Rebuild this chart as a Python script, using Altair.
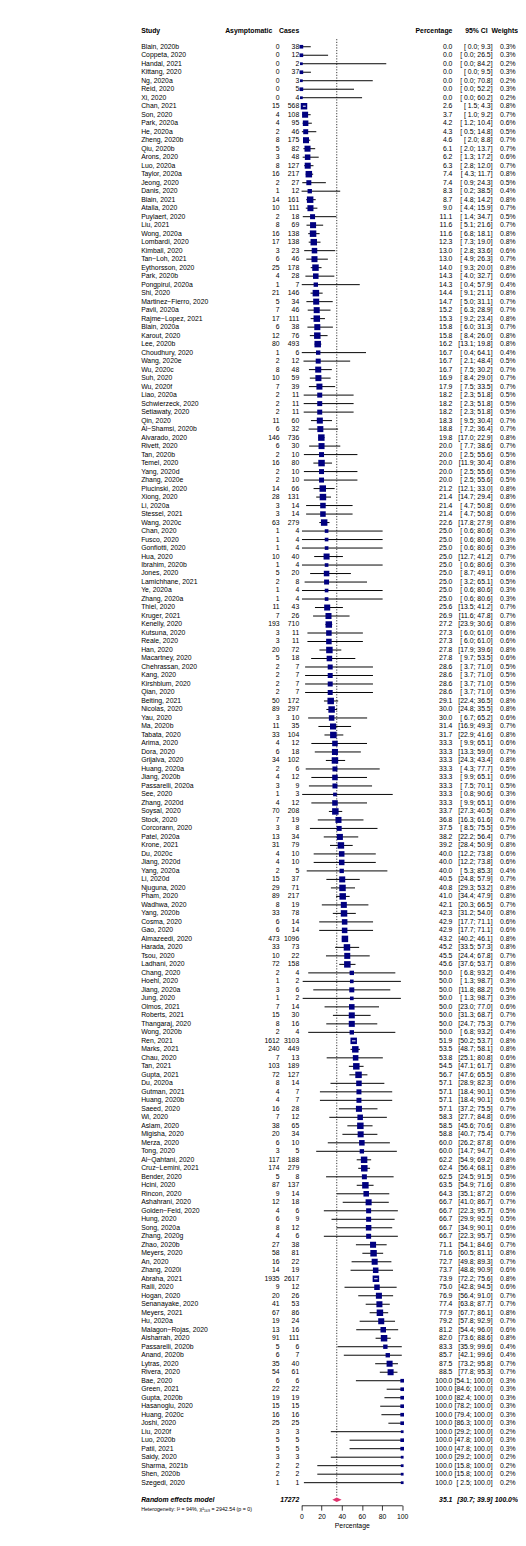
import altair as alt
import pandas as pd

studies = [
    "Blain, 2020b", "Coppeta, 2020", "Handal, 2021", "Kittang, 2020", "Ng, 2020a", "Reid, 2020", "Xi, 2020",
    "Chan, 2021", "Son, 2020", "Park, 2020a", "He, 2020a", "Zheng, 2020b", "Qiu, 2020b", "Arons, 2020",
    "Luo, 2020a", "Taylor, 2020a", "Jeong, 2020", "Danis, 2020", "Blain, 2021", "Atalla, 2020",
    "Puylaert, 2020", "Liu, 2021", "Wong, 2020a", "Lombardi, 2020", "Kimball, 2020", "Tan\u2212Loh, 2021",
    "Eythorsson, 2020", "Park, 2020b", "Pongpirul, 2020a", "Shi, 2020", "Martinez\u2212Fierro, 2020",
    "Pavli, 2020a", "Rajme\u2212Lopez, 2021", "Blain, 2020a", "Karout, 2020", "Lee, 2020b",
    "Choudhury, 2020", "Wang, 2020e", "Wu, 2020c", "Suh, 2020", "Wu, 2020f", "Liao, 2020a",
    "Schwierzeck, 2020", "Setiawaty, 2020", "Qin, 2020", "Al\u2212Shamsi, 2020b", "Alvarado, 2020",
    "Rivett, 2020", "Tan, 2020b", "Temel, 2020", "Yang, 2020d", "Zhang, 2020e", "Plucinski, 2020",
    "Xiong, 2020", "Li, 2020a", "Stessel, 2021", "Wang, 2020c", "Chan, 2020", "Fusco, 2020",
    "Gonfiotti, 2020", "Hua, 2020", "Ibrahim, 2020b", "Jones, 2020", "Lamichhane, 2021", "Ye, 2020a",
    "Zhang, 2020a", "Thiel, 2020", "Kruger, 2021", "Kenelly, 2020", "Kutsuna, 2020", "Reale, 2020",
    "Han, 2020", "Macartney, 2020", "Chehrassan, 2020", "Kang, 2020", "Kirshblum, 2020", "Qian, 2020",
    "Beiting, 2021", "Nicolas, 2020", "Yau, 2020", "Ma, 2020b", "Tabata, 2020", "Arima, 2020",
    "Dora, 2020", "Grijalva, 2020", "Huang, 2020a", "Jiang, 2020b", "Passarelli, 2020a", "See, 2020",
    "Zhang, 2020d", "Soysal, 2020", "Stock, 2020", "Corcorann, 2020", "Patel, 2020a", "Krone, 2021",
    "Du, 2020c", "Jiang, 2020d", "Yang, 2020a", "Li, 2020d", "Njuguna, 2020", "Pham, 2020",
    "Wadhwa, 2020", "Yang, 2020b", "Cosma, 2020", "Gao, 2020", "Almazeedi, 2020", "Harada, 2020",
    "Tsou, 2020", "Ladhani, 2020", "Chang, 2020", "Hoehl, 2020", "Jiang, 2020a", "Jung, 2020",
    "Olmos, 2021", "Roberts, 2021", "Thangaraj, 2020", "Wong, 2020b", "Ren, 2021", "Marks, 2021",
    "Chau, 2020", "Tan, 2021", "Gupta, 2021", "Du, 2020a", "Gutman, 2021", "Huang, 2020b",
    "Saeed, 2020", "Wi, 2020", "Aslam, 2020", "Migisha, 2020", "Merza, 2020", "Tong, 2020",
    "Al\u2212Qahtani, 2020", "Cruz\u2212Lemini, 2021", "Bender, 2020", "Hcini, 2020", "Rincon, 2020",
    "Ashahrani, 2020", "Golden\u2212Feld, 2020", "Hung, 2020", "Song, 2020a", "Zhang, 2020g",
    "Zhao, 2020b", "Meyers, 2020", "An, 2020", "Zhang, 2020i", "Abraha, 2021", "Ralli, 2020",
    "Hogan, 2020", "Senanayake, 2020", "Meyers, 2021", "Hu, 2020a", "Malagon\u2212Rojas, 2020",
    "Alsharrah, 2020", "Passarelli, 2020b", "Anand, 2020b", "Lytras, 2020", "Rivera, 2020",
    "Bae, 2020", "Green, 2021", "Gupta, 2020b", "Hasanoglu, 2020", "Huang, 2020c", "Joshi, 2020",
    "Liu, 2020f", "Luo, 2020b", "Patil, 2021", "Saidy, 2020", "Sharma, 2021b", "Shen, 2020b",
    "Szegedi, 2020",
]

asymptomatic = [
    0, 0, 0, 0, 0, 0, 0, 15, 4, 4, 2, 8, 5, 3, 8, 16, 2, 1, 14, 10, 2, 8, 16, 17, 3, 6, 25, 4, 1, 21,
    5, 7, 17, 6, 12, 80, 1, 2, 8, 10, 7, 2, 2, 2, 11, 6, 146, 6, 2, 16, 2, 2, 14, 28, 3, 3, 63, 1, 1,
    1, 10, 1, 5, 2, 1, 1, 11, 7, 193, 3, 3, 20, 5, 2, 2, 2, 2, 50, 89, 3, 11, 33, 4, 6, 34, 2, 4, 3,
    1, 4, 70, 7, 3, 13, 31, 4, 4, 2, 15, 29, 89, 8, 33, 6, 6, 473, 33, 10, 72, 2, 1, 3, 1, 7, 15, 8,
    2, 1612, 240, 7, 103, 72, 8, 4, 4, 16, 7, 38, 20, 6, 3, 117, 174, 5, 87, 9, 12, 4, 6, 8, 4, 27,
    58, 16, 14, 1935, 9, 20, 41, 67, 19, 13, 91, 5, 6, 35, 54, 6, 22, 19, 15, 16, 25, 3, 5, 5, 3, 2,
    2, 1,
]

cases = [
    38, 12, 2, 37, 3, 5, 4, 568, 108, 95, 46, 175, 82, 48, 127, 217, 27, 12, 161, 111, 18, 69, 138,
    138, 23, 46, 178, 28, 7, 146, 34, 46, 111, 38, 76, 493, 6, 12, 48, 59, 39, 11, 11, 11, 60, 32,
    736, 30, 10, 80, 10, 10, 66, 131, 14, 14, 279, 4, 4, 4, 40, 4, 20, 8, 4, 4, 43, 26, 710, 11, 11,
    72, 18, 7, 7, 7, 7, 172, 297, 10, 35, 104, 12, 18, 102, 6, 12, 9, 3, 12, 208, 19, 8, 34, 79, 10,
    10, 5, 37, 71, 217, 19, 78, 14, 14, 1096, 73, 22, 158, 4, 2, 6, 2, 14, 30, 16, 4, 3103, 449, 13,
    189, 127, 14, 7, 7, 28, 12, 65, 34, 10, 5, 188, 279, 8, 137, 14, 18, 6, 9, 12, 6, 38, 81, 22, 19,
    2617, 12, 26, 53, 86, 24, 16, 111, 6, 7, 40, 61, 6, 22, 19, 15, 16, 25, 3, 5, 5, 3, 2, 2, 1,
]

percentage = [
    0.0, 0.0, 0.0, 0.0, 0.0, 0.0, 0.0, 2.6, 3.7, 4.2, 4.3, 4.6, 6.1, 6.2, 6.3, 7.4, 7.4, 8.3, 8.7,
    9.0, 11.1, 11.6, 11.6, 12.3, 13.0, 13.0, 14.0, 14.3, 14.3, 14.4, 14.7, 15.2, 15.3, 15.8, 15.8,
    16.2, 16.7, 16.7, 16.7, 16.9, 17.9, 18.2, 18.2, 18.2, 18.3, 18.8, 19.8, 20.0, 20.0, 20.0, 20.0,
    20.0, 21.2, 21.4, 21.4, 21.4, 22.6, 25.0, 25.0, 25.0, 25.0, 25.0, 25.0, 25.0, 25.0, 25.0, 25.6,
    26.9, 27.2, 27.3, 27.3, 27.8, 27.8, 28.6, 28.6, 28.6, 28.6, 29.1, 30.0, 30.0, 31.4, 31.7, 33.3,
    33.3, 33.3, 33.3, 33.3, 33.3, 33.3, 33.3, 33.7, 36.8, 37.5, 38.2, 39.2, 40.0, 40.0, 40.0, 40.5,
    40.8, 41.0, 42.1, 42.3, 42.9, 42.9, 43.2, 45.2, 45.5, 45.6, 50.0, 50.0, 50.0, 50.0, 50.0, 50.0,
    50.0, 50.0, 51.9, 53.5, 53.8, 54.5, 56.7, 57.1, 57.1, 57.1, 57.1, 58.3, 58.5, 58.8, 60.0, 60.0,
    62.2, 62.4, 62.5, 63.5, 64.3, 66.7, 66.7, 66.7, 66.7, 66.7, 71.1, 71.6, 72.7, 73.7, 73.9, 75.0,
    76.9, 77.4, 77.9, 79.2, 81.2, 82.0, 83.3, 85.7, 87.5, 88.5, 100.0, 100.0, 100.0, 100.0, 100.0,
    100.0, 100.0, 100.0, 100.0, 100.0, 100.0, 100.0, 100.0,
]

ci_lower = [
    0.0, 0.0, 0.0, 0.0, 0.0, 0.0, 0.0, 1.5, 1.0, 1.2, 0.5, 2.0, 2.0, 1.3, 2.8, 4.3, 0.9, 0.2, 4.8,
    4.4, 1.4, 5.1, 6.8, 7.3, 2.8, 4.9, 9.3, 4.0, 0.4, 9.1, 5.0, 6.3, 9.2, 6.0, 8.4, 13.1, 0.4, 2.1,
    7.5, 8.4, 7.5, 2.3, 2.3, 2.3, 9.5, 7.2, 17.0, 7.7, 2.5, 11.9, 2.5, 2.5, 12.1, 14.7, 4.7, 4.7,
    17.8, 0.6, 0.6, 0.6, 12.7, 0.6, 8.7, 3.2, 0.6, 0.6, 13.5, 11.6, 23.9, 6.0, 6.0, 17.9, 9.7, 3.7,
    3.7, 3.7, 3.7, 22.4, 24.8, 6.7, 16.9, 22.9, 9.9, 13.3, 24.3, 4.3, 9.9, 7.5, 0.8, 9.9, 27.3, 16.3,
    8.5, 22.2, 28.4, 12.2, 12.2, 5.3, 24.8, 29.3, 34.4, 20.3, 31.2, 17.7, 17.7, 40.2, 33.5, 24.4,
    37.6, 6.8, 1.3, 11.8, 1.3, 23.0, 31.3, 24.7, 6.8, 50.2, 48.7, 25.1, 47.1, 47.6, 28.9, 18.4, 18.4,
    37.2, 27.7, 45.6, 40.7, 26.2, 14.7, 54.9, 56.4, 24.5, 54.9, 35.1, 41.0, 22.3, 29.9, 34.9, 22.3,
    54.1, 60.5, 49.8, 48.8, 72.2, 42.8, 56.4, 63.8, 67.7, 57.8, 54.4, 73.6, 35.9, 42.1, 73.2, 77.8,
    54.1, 84.6, 82.4, 78.2, 79.4, 86.3, 29.2, 47.8, 47.8, 29.2, 15.8, 15.8, 2.5,
]

ci_upper = [
    9.3, 26.5, 84.2, 9.5, 70.8, 52.2, 60.2, 4.3, 9.2, 10.4, 14.8, 8.8, 13.7, 17.2, 12.0, 11.7, 24.3,
    38.5, 14.2, 15.9, 34.7, 21.6, 18.1, 19.0, 33.6, 26.3, 20.0, 32.7, 57.9, 21.1, 31.1, 28.9, 23.4,
    31.3, 26.0, 19.8, 64.1, 48.4, 30.2, 29.0, 33.5, 51.8, 51.8, 51.8, 30.4, 36.4, 22.9, 38.6, 55.6,
    30.4, 55.6, 55.6, 33.0, 29.4, 50.8, 50.8, 27.9, 80.6, 80.6, 80.6, 41.2, 80.6, 49.1, 65.1, 80.6,
    80.6, 41.2, 47.8, 30.6, 61.0, 61.0, 39.6, 53.5, 71.0, 71.0, 71.0, 71.0, 36.5, 35.5, 65.2, 49.3,
    41.6, 65.1, 59.0, 43.4, 77.7, 65.1, 70.1, 90.6, 65.1, 40.5, 61.6, 75.5, 56.4, 50.9, 73.8, 73.8,
    85.3, 57.9, 53.2, 47.9, 66.5, 54.0, 71.1, 71.1, 46.1, 57.3, 67.8, 53.7, 93.2, 98.7, 88.2, 98.7,
    77.0, 68.7, 75.3, 93.2, 53.7, 58.1, 80.8, 61.7, 65.5, 82.3, 90.1, 90.1, 75.5, 84.8, 70.6, 75.4,
    87.8, 94.7, 69.2, 68.1, 91.5, 71.6, 87.2, 86.7, 95.7, 92.5, 90.1, 95.7, 84.6, 81.1, 89.3, 90.9,
    75.6, 94.5, 91.0, 87.7, 86.1, 92.9, 96.0, 88.6, 99.6, 99.6, 95.8, 95.3, 100.0, 100.0, 100.0,
    100.0, 100.0, 100.0, 100.0, 100.0, 100.0, 100.0, 100.0, 100.0, 100.0,
]

weights = [
    0.3, 0.3, 0.2, 0.3, 0.2, 0.3, 0.2, 0.8, 0.7, 0.6, 0.5, 0.7, 0.7, 0.6, 0.7, 0.8, 0.5, 0.4, 0.8,
    0.7, 0.5, 0.7, 0.8, 0.8, 0.6, 0.7, 0.8, 0.6, 0.4, 0.8, 0.7, 0.7, 0.8, 0.7, 0.8, 0.8, 0.4, 0.5,
    0.7, 0.7, 0.7, 0.5, 0.5, 0.5, 0.7, 0.7, 0.8, 0.7, 0.5, 0.8, 0.5, 0.5, 0.8, 0.8, 0.6, 0.6, 0.8,
    0.3, 0.3, 0.3, 0.7, 0.3, 0.6, 0.5, 0.3, 0.3, 0.7, 0.7, 0.8, 0.6, 0.6, 0.8, 0.6, 0.5, 0.5, 0.5,
    0.5, 0.8, 0.8, 0.6, 0.7, 0.8, 0.6, 0.7, 0.8, 0.5, 0.6, 0.5, 0.3, 0.6, 0.8, 0.7, 0.5, 0.7, 0.8,
    0.6, 0.6, 0.4, 0.7, 0.8, 0.8, 0.7, 0.8, 0.6, 0.6, 0.8, 0.8, 0.7, 0.8, 0.4, 0.3, 0.5, 0.3, 0.6,
    0.7, 0.7, 0.4, 0.8, 0.8, 0.6, 0.8, 0.8, 0.6, 0.5, 0.5, 0.7, 0.6, 0.8, 0.7, 0.6, 0.4, 0.8, 0.8,
    0.5, 0.8, 0.6, 0.7, 0.5, 0.5, 0.6, 0.5, 0.7, 0.8, 0.7, 0.6, 0.8, 0.6, 0.7, 0.7, 0.8, 0.7, 0.6,
    0.8, 0.4, 0.4, 0.7, 0.7, 0.3, 0.3, 0.3, 0.3, 0.3, 0.3, 0.2, 0.3, 0.3, 0.2, 0.2, 0.2, 0.2,
]

pooled_label = "Random effects model"
pooled_total = 17272
pooled_est = 35.1
pooled_lower = 30.7
pooled_upper = 39.9
heterogeneity = "Heterogeneity: I\u00b2 = 94%, \u03c7\u00b2\u2081\u2086\u2089 = 2942.54 (p = 0)"
tick_values = [0, 20, 40, 60, 80, 100]

headers = ["Study", "Asymptomatic", "Cases", "Percentage", "95% CI", "Weights"]

# ---------------------------------------------------------------- tables
n = len(studies)
df = pd.DataFrame({
    "row": list(range(1, n + 1)),
    "study": studies,
    "asym": [str(v) for v in asymptomatic],
    "cases": [str(v) for v in cases],
    "pct": percentage,
    "lo": ci_lower,
    "hi": ci_upper,
    "w": weights,
})
df["pct_txt"] = df["pct"].map(lambda v: f"{v:.1f}")
df["ci_txt"] = [f"[{a:4.1f}; {b:5.1f}]" for a, b in zip(df["lo"], df["hi"])]
df["w_txt"] = df["w"].map(lambda v: f"{v:.1f}%")
df["inside"] = (df["hi"] - df["lo"]) < 4.5

pooled_row = n + 2
het_row = n + 3.05
header_row = -0.8

FONT = "Liberation Sans"
FS = 7.0

X_STUDY, X_ASYM, X_CASES = 136, 277.5, 297.5
X_PCT, X_CI, X_W = 454, 495, 518.5

xscale = alt.Scale(domain=[0, 100], range=[299.7, 402.7], nice=False, zero=False)
yscale = alt.Scale(domain=[-1.65, 172.66], reverse=True, nice=False, zero=False)

Y = alt.Y("row:Q", scale=yscale, axis=None)

base = alt.Chart(df)

ci_lines = base.mark_rule(color="black", strokeWidth=1).encode(
    x=alt.X("lo:Q", scale=xscale,
            axis=alt.Axis(values=tick_values, title="Percentage", grid=False,
                          labelFont=FONT, titleFont=FONT, labelFontSize=FS, titleFontSize=FS,
                          titleFontWeight="normal", labelColor="black", titleColor="black",
                          domainColor="black", tickColor="black", tickSize=5,
                          domainWidth=0.8, tickWidth=0.8, labelPadding=3, titlePadding=1.5,
                          labelFlush=False)),
    x2="hi:Q",
    y=Y,
)

squares = base.mark_square(color="#000080", opacity=1).encode(
    x=alt.X("pct:Q", scale=xscale),
    y=Y,
    size=alt.Size("w:Q", scale=alt.Scale(domain=[0.2, 0.8], range=[8, 44]), legend=None),
)

inner_lines = base.transform_filter("datum.inside").mark_rule(color="white", strokeWidth=1).encode(
    x=alt.X("lo:Q", scale=xscale), x2="hi:Q", y=Y,
)

ref_df = pd.DataFrame({"x": [pooled_est], "y1": [0.1], "y2": [pooled_row - 0.35]})
ref_line = alt.Chart(ref_df).mark_rule(color="black", strokeWidth=0.8, strokeDash=[1.2, 1.6]).encode(
    x=alt.X("x:Q", scale=xscale),
    y=alt.Y("y1:Q", scale=yscale, axis=None),
    y2="y2:Q",
)

dia_df = pd.DataFrame({
    "x": [pooled_lower, pooled_est, pooled_upper],
    "ytop": [pooled_row, pooled_row - 0.27, pooled_row],
    "ybot": [pooled_row, pooled_row + 0.27, pooled_row],
})
diamond = alt.Chart(dia_df).mark_area(color="#e0336d", orient="vertical", opacity=1).encode(
    x=alt.X("x:Q", scale=xscale),
    y=alt.Y("ytop:Q", scale=yscale, axis=None),
    y2="ybot:Q",
)


def col_text(field, xpos, align, **kw):
    return base.mark_text(align=align, baseline="middle", font=FONT, fontSize=FS, color="black", **kw).encode(
        x=alt.value(xpos), y=Y, text=f"{field}:N")


t_study = col_text("study", X_STUDY, "left")
t_asym = col_text("asym", X_ASYM, "right")
t_cases = col_text("cases", X_CASES, "right")
t_pct = col_text("pct_txt", X_PCT, "right")
t_ci = col_text("ci_txt", X_CI, "right")
t_w = col_text("w_txt", X_W, "right")

hdr_pos = {"Study": (X_STUDY, "left"), "Asymptomatic": (270, "right"), "Cases": (X_CASES, "right"),
           "Percentage": (X_PCT, "right"), "95% CI": (490, "right"), "Weights": (521, "right")}
hdr_layers = []
for lab in headers:
    xp, al = hdr_pos[lab]
    hdr_layers.append(
        alt.Chart(pd.DataFrame({"row": [header_row], "label": [lab]})).mark_text(
            align=al, baseline="middle", font=FONT, fontSize=FS, fontWeight="bold", color="black"
        ).encode(x=alt.value(xp), y=alt.Y("row:Q", scale=yscale, axis=None), text="label:N")
    )

pooled_df = pd.DataFrame({
    "row": [pooled_row],
    "label": [pooled_label],
    "total": [str(pooled_total)],
    "est": [f"{pooled_est:.1f}"],
    "ci": [f"[{pooled_lower:.1f}; {pooled_upper:.1f}]"],
    "w": ["100.0%"],
})
pbase = alt.Chart(pooled_df)
py = alt.Y("row:Q", scale=yscale, axis=None)


def ptext(field, xpos, align):
    return pbase.mark_text(align=align, baseline="middle", font=FONT, fontSize=FS, fontWeight="bold",
                           fontStyle="italic", color="black").encode(x=alt.value(xpos), y=py, text=f"{field}:N")


p_layers = [ptext("label", X_STUDY, "left"), ptext("total", X_CASES, "right"), ptext("est", X_PCT, "right"),
            ptext("ci", X_CI, "right"), ptext("w", 521, "right")]

het = alt.Chart(pd.DataFrame({"row": [het_row], "label": [heterogeneity]})).mark_text(
    align="left", baseline="middle", font=FONT, fontSize=5.4, color="black"
).encode(x=alt.value(X_STUDY), y=alt.Y("row:Q", scale=yscale, axis=None), text="label:N")

chart = alt.layer(
    ref_line, ci_lines, squares, inner_lines, diamond,
    t_study, t_asym, t_cases, t_pct, t_ci, t_w,
    *hdr_layers, *p_layers, het,
).properties(width=518, height=1513, padding=0).configure_view(stroke=None)

chart.save("out.html", embed_options={"renderer": "svg", "actions": False})
